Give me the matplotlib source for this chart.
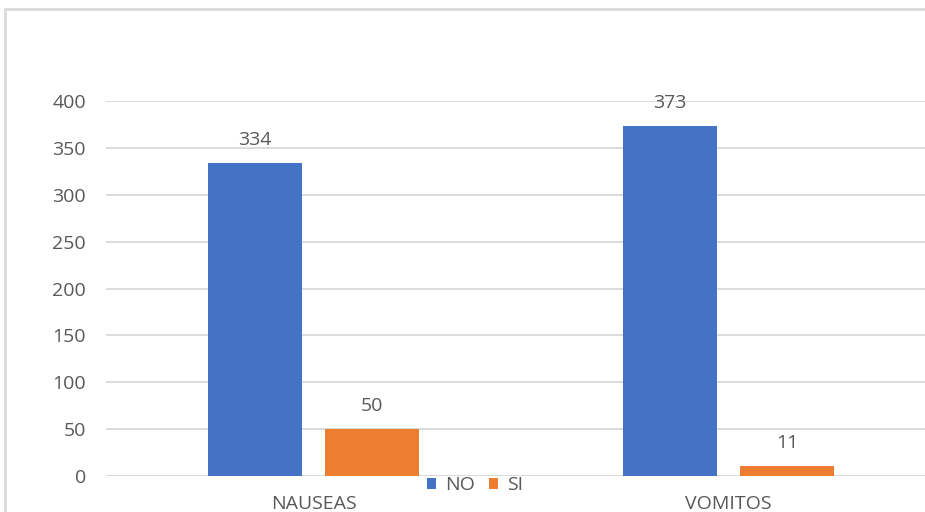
import matplotlib
matplotlib.use("Agg")
import matplotlib.pyplot as plt
from matplotlib.patches import Rectangle
import numpy as np

categories = ["NAUSEAS", "VOMITOS"]
series_names = ["NO", "SI"]
no_values = [334, 373]
si_values = [50, 11]
y_ticks = [0, 50, 100, 150, 200, 250, 300, 350, 400]

blue = "#4472C4"
orange = "#ED7D31"
text_color = "#595959"
grid_color = "#D9D9D9"
fs = 14

plt.rcParams["font.family"] = ["Open Sans", "DejaVu Sans"]

W, H = 925, 512
fig = plt.figure(figsize=(W / 100, H / 100), dpi=100)

# chart-area border (runs past the right and bottom edges)
fig.patches.append(Rectangle((5 / W, -0.2), 1.2, 1 - 9 / H + 0.2,
                             transform=fig.transFigure, fill=False,
                             edgecolor=grid_color, linewidth=2))

# plot area: y=0 at 476px, y=400 at 101px
y0_px, y400_px = 476, 101
ax = fig.add_axes([106 / W, 1 - y0_px / H, 830 / W, (y0_px - y400_px) / H])
ax.set_ylim(0, 400)
ax.set_xlim(-0.5, 1.5)

x = np.arange(len(categories))
bw = 0.2265
off = 0.142
b1 = ax.bar(x - off, no_values, bw, color=blue, label=series_names[0], zorder=3)
b2 = ax.bar(x + off, si_values, bw, color=orange, label=series_names[1], zorder=3)

for bars, vals in ((b1, no_values), (b2, si_values)):
    for rect, v in zip(bars, vals):
        ax.annotate(f"{v}", (rect.get_x() + rect.get_width() / 2, v),
                    xytext=(0, 10), textcoords="offset points",
                    ha="center", va="bottom", fontsize=fs, color=text_color)

ax.set_yticks(y_ticks)
ax.set_yticklabels([str(t) for t in y_ticks])
ax.tick_params(axis="y", length=0, pad=14.5, labelsize=fs, labelcolor=text_color)
ax.set_xticks(x)
ax.set_xticklabels(categories)
ax.tick_params(axis="x", length=0, pad=14, labelsize=fs, labelcolor=text_color)

ax.grid(axis="y", color=grid_color, linewidth=1.3, zorder=0)
for s in ax.spines.values():
    s.set_visible(False)
ax.axhline(0, color=grid_color, linewidth=1.3, zorder=2)

leg = fig.legend(loc="center", bbox_to_anchor=(475 / W, 1 - 485 / H), ncol=2,
                 frameon=False, fontsize=fs, handlelength=0.5, handleheight=0.5,
                 handletextpad=0.45, columnspacing=0.7, borderpad=0)
for t in leg.get_texts():
    t.set_color(text_color)

fig.savefig("out.png", dpi=100)
